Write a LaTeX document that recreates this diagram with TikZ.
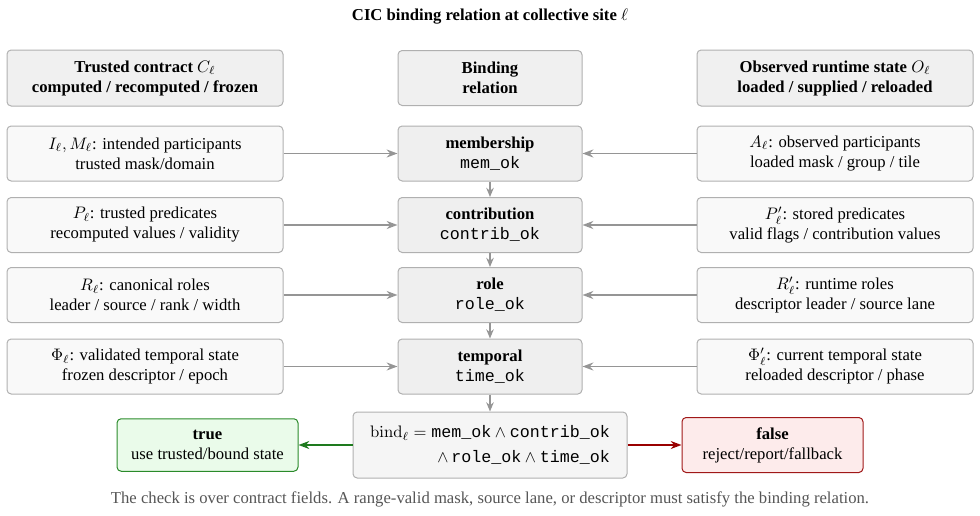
\documentclass[tikz,border=0pt]{standalone}
\usepackage[no-math]{fontspec}
\setmainfont{Liberation Serif}
\setmonofont{Liberation Mono}
\usetikzlibrary{arrows.meta}
\definecolor{sidefill}{HTML}{F9F9F9}
\definecolor{boxdraw}{HTML}{B0B0B0}
\definecolor{midfill}{HTML}{EFEFEF}
\definecolor{headfill}{HTML}{F0F0F0}
\definecolor{bindfill}{HTML}{F5F5F5}
\definecolor{arrowgray}{HTML}{959595}
\definecolor{truefill}{HTML}{EAFBEA}
\definecolor{truedraw}{HTML}{2A8A2A}
\definecolor{truearrow}{HTML}{1E7A1E}
\definecolor{falsefill}{HTML}{FDEBEB}
\definecolor{falsedraw}{HTML}{A01818}
\definecolor{falsearrow}{HTML}{990000}
\definecolor{captiongray}{HTML}{555555}
\tikzset{
  basebox/.style={rounded corners=2.5pt, line width=0.6pt, draw=boxdraw, align=center, inner sep=2pt},
  headbox/.style={basebox, fill=headfill, minimum width=165.6pt, minimum height=33.6pt, font=\bfseries},
  midhead/.style={basebox, fill=headfill, minimum width=110.4pt, minimum height=33pt, font=\bfseries},
  sidebox/.style={basebox, fill=sidefill, minimum width=165.6pt, minimum height=33pt},
  midbox/.style={basebox, fill=midfill, minimum width=110.4pt, minimum height=33pt},
  bindbox/.style={basebox, fill=bindfill, minimum width=164.4pt, minimum height=39.6pt, align=right},
  truebox/.style={basebox, draw=truedraw, fill=truefill, minimum width=108.6pt, minimum height=31.5pt},
  falsebox/.style={basebox, draw=falsedraw, fill=falsefill, minimum width=108.6pt, minimum height=33pt},
  grayarrow/.style={draw=arrowgray, line width=1pt, -{Stealth[length=6.5pt,width=4.8pt]}},
  vertarrow/.style={draw=arrowgray, line width=1pt, -{Stealth[length=5.5pt,width=4.5pt]}},
  greenarrow/.style={draw=truearrow, line width=1pt, -{Stealth[length=6.5pt,width=4.8pt]}},
  redarrow/.style={draw=falsearrow, line width=1pt, -{Stealth[length=6.5pt,width=4.8pt]}},
}
\begin{document}
\begin{tikzpicture}[x=0.6pt, y=-0.6pt]
\useasboundingbox (0,0) rectangle (980,515);
\node[font=\bfseries] (title) at (490,17) {CIC binding relation at collective site $\ell$};

\node[headbox] (hl) at (145,78) {Trusted contract $C_\ell$\\computed / recomputed / frozen};
\node[midhead] (hm) at (490,78) {Binding\\relation};
\node[headbox] (hr) at (835,78) {Observed runtime state $O_\ell$\\loaded / supplied / reloaded};

\node[sidebox] (l1) at (145,153.5) {$I_\ell, M_\ell$: intended participants\\trusted mask/domain};
\node[sidebox] (l2) at (145,225) {$P_\ell$: trusted predicates\\recomputed values / validity};
\node[sidebox] (l3) at (145,295) {$R_\ell$: canonical roles\\leader / source / rank / width};
\node[sidebox] (l4) at (145,366.5) {$\Phi_\ell$: validated temporal state\\frozen descriptor / epoch};

\node[midbox] (m1) at (490,153.5) {\textbf{membership}\\\texttt{mem\_ok}};
\node[midbox] (m2) at (490,225) {\textbf{contribution}\\\texttt{contrib\_ok}};
\node[midbox] (m3) at (490,295) {\textbf{role}\\\texttt{role\_ok}};
\node[midbox] (m4) at (490,366.5) {\textbf{temporal}\\\texttt{time\_ok}};

\node[sidebox] (r1) at (835,153.5) {$A_\ell$: observed participants\\loaded mask / group / tile};
\node[sidebox] (r2) at (835,225) {$P'_\ell$: stored predicates\\valid flags / contribution values};
\node[sidebox] (r3) at (835,295) {$R'_\ell$: runtime roles\\descriptor leader / source lane};
\node[sidebox] (r4) at (835,366.5) {$\Phi'_\ell$: current temporal state\\reloaded descriptor / phase};

\node[bindbox] (bind) at (490,445) {$\mathrm{bind}_\ell = \texttt{mem\_ok} \wedge \texttt{contrib\_ok}$\\[3pt]$\wedge\,\texttt{role\_ok} \wedge \texttt{time\_ok}$};
\node[truebox] (true) at (207.5,445) {\textbf{true}\\use trusted/bound state};
\node[falsebox] (false) at (772.5,445) {\textbf{false}\\reject/report/fallback};

\node[text=captiongray] (cap) at (490,499) {The check is over contract fields. A range-valid mask, source lane, or descriptor must satisfy the binding relation.};

\foreach \i in {1,2,3,4} {
  \draw[grayarrow] (l\i) -- (m\i);
  \draw[grayarrow] (r\i) -- (m\i);
}
\draw[vertarrow] (m1) -- (m2);
\draw[vertarrow] (m2) -- (m3);
\draw[vertarrow] (m3) -- (m4);
\draw[vertarrow] (m4) -- (bind);
\draw[greenarrow] (bind) -- (true);
\draw[redarrow] (bind) -- (false);
\end{tikzpicture}
\end{document}
